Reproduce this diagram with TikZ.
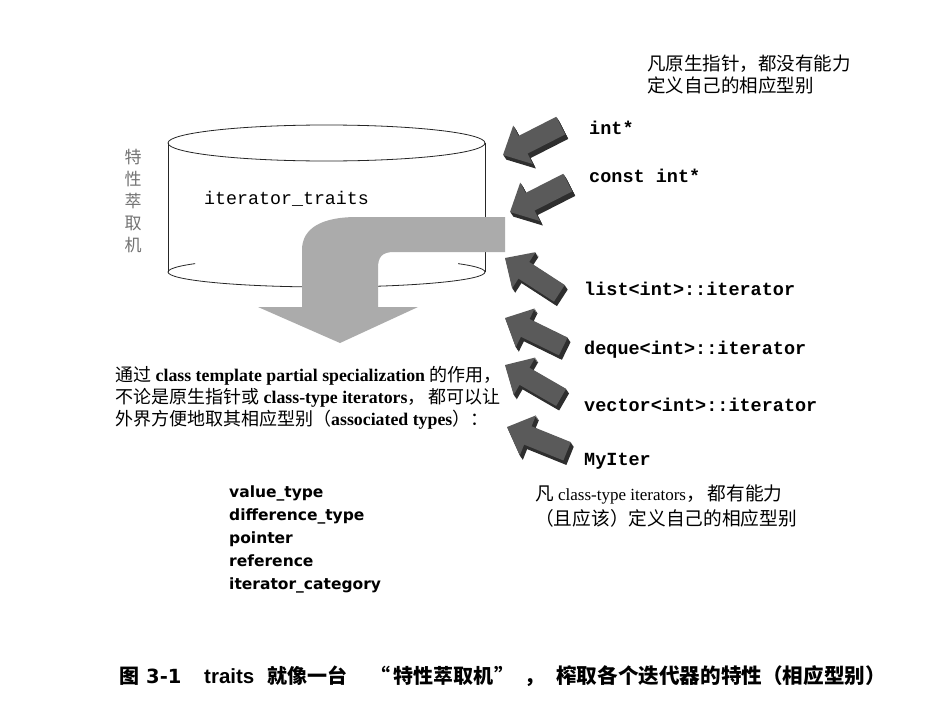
\documentclass[tikz,border=0pt]{standalone}
\usepackage{fontspec}
\setmainfont{Liberation Serif}
\setsansfont{Liberation Sans}
\setmonofont{Liberation Mono}
\newfontfamily\cjk{Noto Sans CJK SC}
\newfontfamily\heavysans{DejaVu Sans}
\definecolor{bigarrow}{HTML}{ABABAB}
\definecolor{arrface}{HTML}{5A5A5A}
\definecolor{arrside}{HTML}{2E2E2E}
\newcommand\fatarrow[3]{%
  \begin{scope}[shift={(#1,#2)}]
    \foreach \d in {1,...,5}{%
      \fill[arrside, shift={(0.6*\d,0.9*\d)}, rotate=#3, scale=0.9]
        (0,0) -- (25,-24) -- (25,-11) -- (72,-11) -- (72,11) -- (25,11) -- (25,24) -- cycle;
    }
    \fill[arrface, rotate=#3, scale=0.9]
      (0,0) -- (25,-24) -- (25,-11) -- (72,-11) -- (72,11) -- (25,11) -- (25,24) -- cycle;
  \end{scope}}
\newcommand\zh[1]{{\cjk\mdseries\fontsize{18}{22}\selectfont #1}}
\newcommand\zhb[1]{{\cjk\fontsize{18.7}{25}\selectfont #1}}
\tikzset{
  codelbl/.style={anchor=west, inner sep=0pt, font=\ttfamily\bfseries\fontsize{18.5}{20}\selectfont},
  cyl/.style={draw=black!85, line width=0.8pt},
  captxt/.style={anchor=west, inner sep=0pt, font=\cjk\bfseries\fontsize{20}{22}\selectfont},
}
\begin{document}
\begin{tikzpicture}[x=1pt,y=-1pt]
\useasboundingbox[fill=white] (0,0) rectangle (950,709);

% cylinder
\draw[cyl] (326.5,143) ellipse [x radius=158.5, y radius=18];
\draw[cyl] (168,143) -- (168,272);
\draw[cyl] (485,143) -- (485,272);
\begin{scope}
  \clip (150,272) rectangle (500,300);
  \draw[cyl] (326.5,272) ellipse [x radius=158.5, y radius=15];
\end{scope}
\begin{scope}
  \clip (150,255) rectangle (195,272) (458,255) rectangle (500,272);
  \draw[cyl] (326.5,272) ellipse [x radius=158.5, y radius=15];
\end{scope}

\node[anchor=west, inner sep=0pt, font=\ttfamily\fontsize{18.3}{20}\selectfont] (traits) at (204,199) {iterator\_traits};
\node[align=center, inner sep=0pt, text=black!55, font=\cjk\fontsize{17}{22}\selectfont] (machine) at (133,201) {特\\性\\萃\\取\\机};

% big bent arrow
\fill[bigarrow] (505,217) -- (357,217)
  .. controls (322,217) and (302,228) .. (302,250)
  -- (302,307) -- (258,307) -- (340,343) -- (418,307) -- (378,307) -- (378,268)
  .. controls (378,257) and (382,252) .. (394,252) -- (505,252) -- cycle;

% small arrows
\fatarrow{503}{155}{27}
\fatarrow{510}{212}{27}
\fatarrow{505}{258}{-33}
\fatarrow{505}{318}{-26}
\fatarrow{505}{365}{-30}
\fatarrow{507}{427}{-22}

% labels
\node[codelbl] (lint) at (589,128) {int*};
\node[codelbl] (lcint) at (589,176) {const int*};
\node[codelbl] (llist) at (584,289) {list<int>::iterator};
\node[codelbl] (ldeque) at (584,350) {deque<int>::iterator};
\node[codelbl] (lvector) at (584,405) {vector<int>::iterator};
\node[codelbl] (lmyiter) at (584,461) {MyIter};

\node[anchor=north west, inner sep=0pt, align=left, font=\cjk\fontsize{18.5}{22}\selectfont] (rawnote) at (647,55) {凡原生指针，都没有能力\\定义自己的相应型别};

\node[anchor=north west, inner sep=0pt, align=left, font=\bfseries\fontsize{17.8}{22}\selectfont] (expl) at (115,366)
 {\zh{通过} class template partial specialization \zh{的作用，}\\
  \zh{不论是原生指针或} class-type iterators\zh{，\,都可以让}\\
  \zh{外界方便地取其相应型别（}associated types\zh{）：}};

\node[anchor=north west, inner sep=0pt, align=left, font=\heavysans\bfseries\fontsize{15.5}{23}\selectfont] (types) at (229,486)
 {value\_type\\difference\_type\\pointer\\reference\\iterator\_category};

\node[anchor=north west, inner sep=0pt, align=left, font=\fontsize{17}{25}\selectfont] (classnote) at (535,485)
 {\zhb{凡} class-type iterators\zhb{，\,都有能力}\\
  \zhb{（且应该）定义自己的相应型别}};

% caption
\node[captxt] (capfig) at (119,676) {图};
\node[anchor=west, inner sep=0pt, font=\heavysans\bfseries\fontsize{19.5}{22}\selectfont] (capnum) at (146,676) {3-1};
\node[anchor=west, inner sep=0pt, font=\sffamily\bfseries\fontsize{20.5}{22}\selectfont] (captraits) at (204,676) {traits};
\node[captxt] (capa) at (267,676) {就像一台};
\node[captxt] (capb) at (370,676) {“\hspace{3pt}特性萃取机\hspace{1pt}”\hspace{10pt}，};
\node[captxt, anchor=east, font=\cjk\bfseries\fontsize{20.6}{22}\selectfont] (capc) at (886,676) {榨取各个迭代器的特性（相应型别）};
\end{tikzpicture}
\end{document}
